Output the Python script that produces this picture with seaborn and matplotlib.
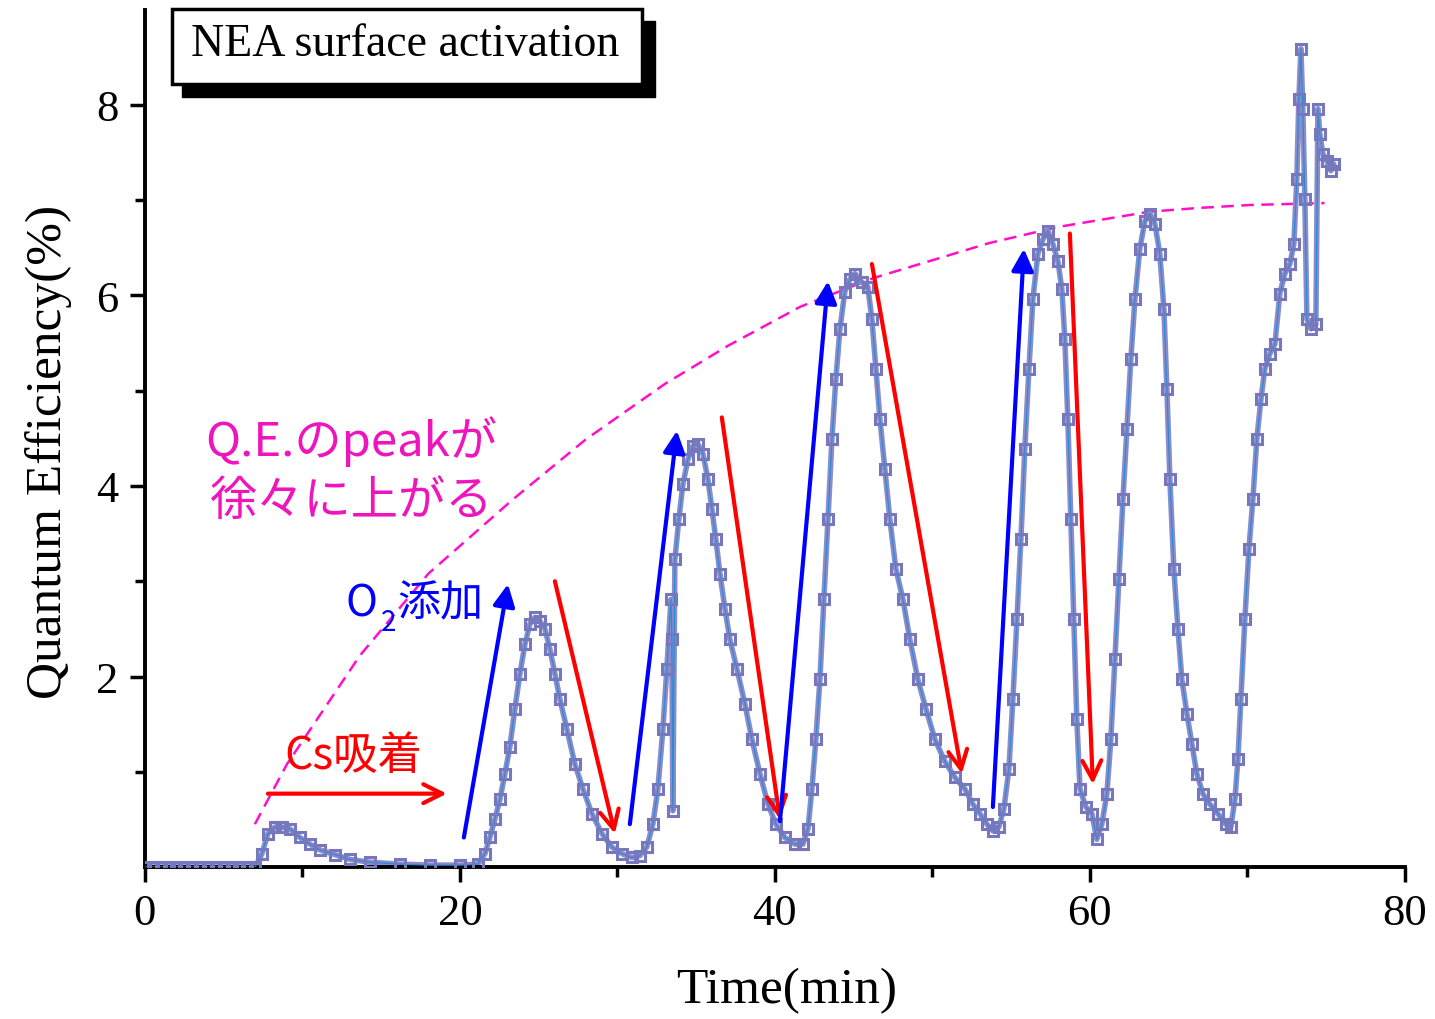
import numpy as np
import pandas as pd
import seaborn as sns
import matplotlib
matplotlib.use("Agg")
import matplotlib.pyplot as plt
from matplotlib.patches import Rectangle
from matplotlib.ticker import MultipleLocator, FixedLocator

# values
time_min = [0.0, 0.5, 1.0, 1.5, 2.0, 2.5, 3.0, 3.5, 4.0, 4.5, 5.0, 5.5, 6.0, 6.5, 7.0,
            7.43, 7.81, 8.25, 8.70, 9.21, 9.84, 10.48, 11.11, 12.06, 13.02, 14.29, 16.19, 18.10, 20.0,
            21.14, 21.59, 21.90, 22.22, 22.54, 22.86, 23.17, 23.49, 23.81, 24.13, 24.44, 24.76, 25.08,
            25.40, 25.71, 26.03, 26.35, 26.79, 27.30, 27.81, 28.38, 29.02, 29.65, 30.29, 30.92, 31.43,
            31.87, 32.25, 32.57, 32.89, 33.14, 33.40, 33.46, 33.52, 33.65, 33.90, 34.16, 34.48, 34.79,
            35.11, 35.43, 35.75, 36.0, 36.25, 36.51, 36.83, 37.14, 37.59, 38.10, 38.54, 39.05, 39.56,
            40.06, 40.63, 41.27, 41.78, 42.10, 42.35, 42.60, 42.86, 43.11, 43.37, 43.62, 43.87, 44.13,
            44.44, 44.76, 45.08, 45.52, 45.90, 46.16, 46.41, 46.67, 46.98, 47.30, 47.68, 48.13, 48.57,
            49.08, 49.59, 50.16, 50.79, 51.43, 52.06, 52.57, 53.02, 53.46, 53.84, 54.22, 54.54, 54.86,
            55.11, 55.37, 55.62, 55.87, 56.13, 56.38, 56.70, 57.02, 57.33, 57.65, 57.97, 58.22, 58.41,
            58.60, 58.79, 58.98, 59.17, 59.37, 59.75, 60.13, 60.44, 60.76, 61.08, 61.33, 61.59, 61.84,
            62.10, 62.35, 62.60, 62.86, 63.17, 63.49, 63.81, 64.13, 64.44, 64.70, 64.89, 65.08, 65.33,
            65.59, 65.84, 66.16, 66.48, 66.79, 67.17, 67.62, 68.13, 68.63, 68.95, 69.21, 69.40, 69.59,
            69.84, 70.10, 70.35, 70.60, 70.86, 71.11, 71.43, 71.75, 72.06, 72.38, 72.70, 72.95, 73.14,
            73.27, 73.40, 73.52, 73.65, 73.78, 74.03, 74.35, 74.48, 74.60, 74.79, 75.05, 75.30, 75.49]
qe = [0.0, 0.0, 0.0, 0.0, 0.0, 0.0, 0.0, 0.0, 0.0, 0.0, 0.0, 0.0, 0.0, 0.0, 0.0,
      0.14, 0.35, 0.42, 0.42, 0.40, 0.31, 0.24, 0.18, 0.13, 0.08, 0.05, 0.03, 0.02, 0.02,
      0.03, 0.14, 0.31, 0.50, 0.71, 0.98, 1.26, 1.66, 2.03, 2.34, 2.55, 2.62, 2.58,
      2.50, 2.29, 2.03, 1.76, 1.45, 1.08, 0.82, 0.56, 0.35, 0.21, 0.14, 0.10, 0.12,
      0.21, 0.45, 0.82, 1.45, 2.08, 2.81, 2.39, 0.59, 3.23, 3.65, 4.02, 4.28, 4.42,
      4.44, 4.34, 4.07, 3.76, 3.44, 3.08, 2.71, 2.39, 2.08, 1.71, 1.34, 0.98, 0.66,
      0.45, 0.31, 0.24, 0.24, 0.40, 0.82, 1.34, 1.97, 2.81, 3.65, 4.49, 5.12, 5.65,
      6.04, 6.17, 6.23, 6.14, 6.09, 5.75, 5.23, 4.70, 4.18, 3.65, 3.13, 2.81, 2.39,
      1.97, 1.66, 1.34, 1.11, 0.94, 0.82, 0.66, 0.56, 0.45, 0.38, 0.42, 0.61, 1.03,
      1.76, 2.60, 3.44, 4.39, 5.23, 5.96, 6.44, 6.59, 6.68, 6.54, 6.36, 6.07, 5.54,
      4.70, 3.65, 2.60, 1.55, 0.82, 0.63, 0.56, 0.29, 0.45, 0.77, 1.34, 2.18, 3.02,
      3.86, 4.60, 5.33, 5.96, 6.49, 6.78, 6.86, 6.75, 6.44, 5.86, 5.02, 4.07, 3.13,
      2.50, 1.97, 1.61, 1.29, 0.98, 0.77, 0.66, 0.56, 0.45, 0.42, 0.71, 1.13, 1.76,
      2.60, 3.34, 3.86, 4.49, 4.91, 5.23, 5.39, 5.49, 6.02, 6.23, 6.33, 6.54, 7.22,
      8.06, 8.59, 7.96, 7.01, 5.75, 5.65, 5.70, 7.96, 7.70, 7.49, 7.41, 7.31, 7.38]

# guide curve for the peaks (dashed magenta)
guide_t = [6.98, 9.02, 13.65, 18.0, 23.37, 28.0, 33.0, 37.0, 41.59, 46.2, 53.6, 58.0, 63.8, 67.0, 70.2, 74.9]
guide_qe = [0.45, 1.08, 2.22, 3.08, 3.86, 4.49, 5.07, 5.47, 5.88, 6.18, 6.55, 6.72, 6.88, 6.92, 6.95, 6.97]

# arrows: (start_t, start_qe, end_t, end_qe)
cs_arrows = [(7.81, 0.77, 19.17, 0.77), (26.03, 3.0, 29.84, 0.35), (36.63, 4.72, 40.32, 0.50),
             (46.16, 6.33, 51.87, 0.98), (58.73, 6.65, 60.19, 0.87)]
o2_arrows = [(20.25, 0.31, 23.05, 2.97), (30.79, 0.45, 33.78, 4.58), (40.32, 0.48, 43.37, 6.15),
             (53.84, 0.63, 55.81, 6.49)]

df = pd.DataFrame({"Time": time_min, "QE": qe})

sns.set_style("ticks")
plt.rcParams['font.family'] = ['Liberation Serif', 'DejaVu Serif']
plt.rcParams.update({"text.color": "black", "axes.labelcolor": "black",
                     "xtick.color": "black", "ytick.color": "black", "axes.edgecolor": "black"})
jp = ['Noto Sans CJK JP', 'DejaVu Sans']

fig = plt.figure(figsize=(14.35, 10.2), dpi=100)
ax = fig.add_axes([0.101, 0.149, 0.878, 0.8405])

# dense measurement band + thin connecting line + hollow squares
sns.lineplot(data=df, x="Time", y="QE", sort=False, estimator=None, ax=ax,
             color="#8c8cca", lw=4, zorder=2)
sns.lineplot(data=df, x="Time", y="QE", sort=False, estimator=None, ax=ax,
             color="#2a8ad4", lw=0.9, marker="s", markersize=7,
             markerfacecolor="none", markeredgecolor="#7777bd", markeredgewidth=2.2, zorder=3)

ax.plot(guide_t, guide_qe, color="#ff10c8", lw=1.8, dashes=(5, 3), zorder=1)

for x0, y0, x1, y1 in cs_arrows:
    ax.annotate("", xy=(x1, y1), xytext=(x0, y0),
                arrowprops=dict(arrowstyle="->", color="#ff0000", lw=3,
                                mutation_scale=34, shrinkA=0, shrinkB=0))
for x0, y0, x1, y1 in o2_arrows:
    ax.annotate("", xy=(x1, y1), xytext=(x0, y0),
                arrowprops=dict(arrowstyle="-|>", color="#0000ff", lw=3,
                                mutation_scale=33, shrinkA=0, shrinkB=0))

ax.text(13.08, 4.48, "Q.E.のpeakが", family=jp, fontsize=34, color="#f014bc", ha="center", va="center")
ax.text(13.14, 3.85, "徐々に上がる", family=jp, fontsize=34, color="#f014bc", ha="center", va="center")
ax.text(12.75, 2.77, "O", family=jp, fontsize=31, color="#0000ff", ha="left", va="center")
ax.text(14.95, 2.57, "2", family=jp, fontsize=20, color="#0000ff", ha="left", va="center")
ax.text(16.0, 2.77, "添加", family=jp, fontsize=31, color="#0000ff", ha="left", va="center")
ax.text(13.27, 1.18, "Cs吸着", family=jp, fontsize=32, color="#ff0000", ha="center", va="center")

ax.set_xlim(0, 80)
ax.set_ylim(0, 9)
ax.xaxis.set_major_locator(MultipleLocator(20))
ax.xaxis.set_minor_locator(FixedLocator([10, 30, 50, 70]))
ax.yaxis.set_major_locator(FixedLocator([2, 4, 6, 8]))
ax.yaxis.set_minor_locator(FixedLocator([1, 3, 5, 7]))
ax.tick_params(which="major", length=11, width=2.5, labelsize=32, direction="out", pad=8)
ax.tick_params(which="minor", length=7, width=2.5, direction="out")
sns.despine(ax=ax)
for s in ["left", "bottom"]:
    ax.spines[s].set_linewidth(2.8)

ax.set_xlabel("Time(min)", fontsize=37)
ax.set_ylabel("Quantum Efficiency(%)", fontsize=37)
ax.xaxis.set_label_coords(0.509, -0.116)
ax.yaxis.set_label_coords(-0.058, 0.485)

# title box with drop shadow
fig.patches.append(Rectangle((0.1268, 0.9039), 0.3296, 0.0745, transform=fig.transFigure,
                             facecolor="black", edgecolor="black", zorder=5))
fig.patches.append(Rectangle((0.1199, 0.9167), 0.3275, 0.0735, transform=fig.transFigure,
                             facecolor="white", edgecolor="black", lw=2.5, zorder=6))
fig.text(0.2822, 0.9559, "NEA surface activation", fontsize=33, ha="center", va="center", zorder=7)

fig.savefig("out.png", dpi=100, facecolor="white")
